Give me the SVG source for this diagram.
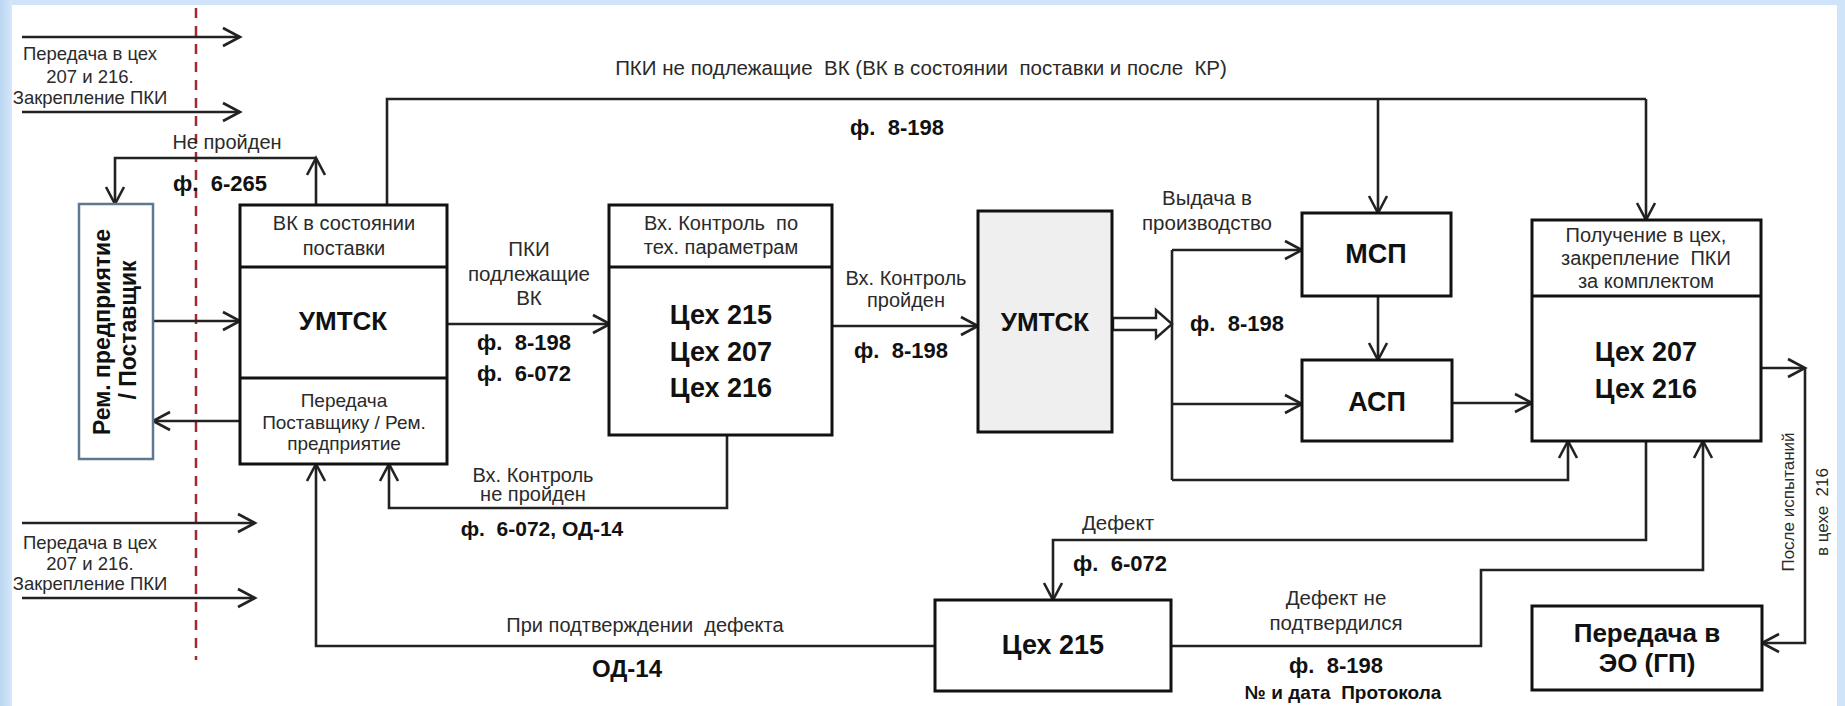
<svg xmlns="http://www.w3.org/2000/svg" width="1845" height="706" viewBox="0 0 1845 706" xml:space="preserve">
<defs>
<linearGradient id="leftg" x1="0" y1="0" x2="1" y2="0">
<stop offset="0" stop-color="#b9d5f1"/>
<stop offset="1" stop-color="#d6e8fa"/>
</linearGradient>
<marker id="ah" markerUnits="userSpaceOnUse" markerWidth="24" markerHeight="22" viewBox="0 0 24 22" refX="19" refY="11" orient="auto">
<path d="M2,2 L19,11 L2,20" fill="none" stroke="#222" stroke-width="2.6"/>
</marker>
<style>
.box{fill:#fff;stroke:#111;stroke-width:3}
.div{stroke:#111;stroke-width:3}
.ln{fill:none;stroke:#222;stroke-width:2.6}
.arr{fill:none;stroke:#222;stroke-width:2.6;marker-end:url(#ah)}
text{font-family:"Liberation Sans",Arial,sans-serif;fill:#2a2a2a;text-anchor:middle;dominant-baseline:central;white-space:pre}
.l{font-size:18.5px}
.s{font-size:20px}
.m{font-size:20.5px}
.rt{font-size:19px}
.b{font-size:22px;font-weight:bold;fill:#111}
.bb{font-size:27px;font-weight:bold;fill:#111}
.v{font-size:17px}
</style>
</defs>
<rect x="0" y="0" width="1845" height="706" fill="#cfe4f8"/>
<rect x="0" y="0" width="12" height="706" fill="url(#leftg)"/>
<rect x="12" y="5" width="1825" height="701" fill="#ffffff"/>

<line x1="196" y1="8" x2="196" y2="660" stroke="#a02a30" stroke-width="2.5" stroke-dasharray="10,8"/>

<g id="connectors">
<path class="arr" d="M22,37 H240"/>
<path class="arr" d="M22,112 H240"/>
<path class="arr" d="M22,523 H255"/>
<path class="arr" d="M22,598 H255"/>
<path class="arr" d="M153,321 H240"/>
<path class="arr" d="M240,421 H153"/>
<path class="arr" d="M316,205 V158"/>
<path class="arr" d="M316,158 H115 V204"/>
<path class="ln" d="M387,205 V99 H1646"/>
<path class="arr" d="M1646,99 V220"/>
<path class="arr" d="M1378,99 V213"/>
<path class="arr" d="M447,324 H610"/>
<path class="arr" d="M832,326 H978"/>
<polygon points="1113,318 1156,318 1156,310 1172,324 1156,338 1156,330 1113,330" fill="#fff" stroke="#222" stroke-width="2.4"/>
<path class="ln" d="M1172,250 V480"/>
<path class="arr" d="M1172,250 H1302"/>
<path class="arr" d="M1172,404 H1302"/>
<path class="arr" d="M1172,480 H1568 V441"/>
<path class="arr" d="M1378,296 V360"/>
<path class="arr" d="M1452,403 H1532"/>
<path class="arr" d="M1761,368 H1805"/>
<path class="arr" d="M1805,368 V643 H1762"/>
<path class="arr" d="M1646,441 V540 H1053 V600"/>
<path class="arr" d="M1171,646 H1481 V570 H1703 V441"/>
<path class="arr" d="M935,646 H316 V464"/>
<path class="arr" d="M727,435 V508 H389 V464"/>
</g>

<g id="rem">
<rect x="79" y="204" width="74" height="255" fill="#fff" stroke="#5d7890" stroke-width="2.5"/>
<text class="b" x="102" y="332" transform="rotate(-90 102 332)" style="font-size:23px">Рем. предприятие</text>
<text class="b" x="128" y="330" transform="rotate(-90 128 330)" style="font-size:23px">/ Поставщик</text>
</g>

<g id="umtsk1">
<rect class="box" x="240" y="205" width="207" height="259"/>
<line class="div" x1="240" y1="267" x2="447" y2="267"/>
<line class="div" x1="240" y1="378" x2="447" y2="378"/>
<text class="s" x="344" y="223">ВК в состоянии</text>
<text class="s" x="344" y="248">поставки</text>
<text class="bb" x="343" y="321" style="font-size:26px">УМТСК</text>
<text class="rt" x="344" y="400">Передача</text>
<text class="rt" x="344" y="422">Поставщику / Рем.</text>
<text class="rt" x="344" y="443">предприятие</text>
</g>

<g id="vk">
<rect class="box" x="609" y="205" width="223" height="230"/>
<line class="div" x1="609" y1="267" x2="832" y2="267"/>
<text class="s" x="721" y="223">Вх. Контроль  по</text>
<text class="s" x="721" y="247">тех. параметрам</text>
<text class="bb" x="721" y="315">Цех 215</text>
<text class="bb" x="721" y="352">Цех 207</text>
<text class="bb" x="721" y="388">Цех 216</text>
</g>

<g id="umtsk2">
<rect x="978" y="211" width="134" height="221" fill="#efefef" stroke="#111" stroke-width="3"/>
<text class="bb" x="1045" y="322" style="font-size:26px">УМТСК</text>
</g>

<g id="msp">
<rect class="box" x="1302" y="213" width="149" height="83"/>
<text class="bb" x="1376" y="254">МСП</text>
</g>

<g id="asp">
<rect class="box" x="1302" y="360" width="150" height="81"/>
<text class="bb" x="1377" y="402">АСП</text>
</g>

<g id="poluchenie">
<rect class="box" x="1532" y="220" width="229" height="221"/>
<line class="div" x1="1532" y1="296" x2="1761" y2="296"/>
<text class="s" x="1646" y="235">Получение в цех,</text>
<text class="s" x="1646" y="258">закрепление  ПКИ</text>
<text class="s" x="1646" y="281">за комплектом</text>
<text class="bb" x="1646" y="352">Цех 207</text>
<text class="bb" x="1646" y="389">Цех 216</text>
</g>

<g id="ceh215">
<rect class="box" x="935" y="600" width="236" height="91"/>
<text class="bb" x="1053" y="645">Цех 215</text>
</g>

<g id="eo">
<rect class="box" x="1532" y="606" width="230" height="84"/>
<text class="b" x="1647" y="633" style="font-size:26px">Передача в</text>
<text class="b" x="1647" y="663" style="font-size:26px">ЭО (ГП)</text>
</g>

<g id="labels">
<text class="l" x="90" y="53">Передача в цех</text>
<text class="l" x="90" y="76">207 и 216.</text>
<text class="l" x="90" y="97">Закрепление ПКИ</text>
<text class="l" x="90" y="542">Передача в цех</text>
<text class="l" x="90" y="563">207 и 216.</text>
<text class="l" x="90" y="583">Закрепление ПКИ</text>
<text class="s" x="227" y="142">Не пройден</text>
<text class="b" x="220" y="183">ф.  6-265</text>
<text class="m" x="921" y="67">ПКИ не подлежащие  ВК (ВК в состоянии  поставки и после  КР)</text>
<text class="b" x="897" y="127">ф.  8-198</text>
<text class="m" x="529" y="248">ПКИ</text>
<text class="m" x="529" y="273">подлежащие</text>
<text class="m" x="529" y="297">ВК</text>
<text class="b" x="524" y="342">ф.  8-198</text>
<text class="b" x="524" y="373">ф.  6-072</text>
<text class="s" x="906" y="278">Вх. Контроль</text>
<text class="s" x="906" y="300">пройден</text>
<text class="b" x="901" y="350">ф.  8-198</text>
<text class="m" x="1207" y="197">Выдача в</text>
<text class="m" x="1207" y="222">производство</text>
<text class="b" x="1237" y="323">ф.  8-198</text>
<text class="s" x="533" y="475">Вх. Контроль</text>
<text class="s" x="533" y="494">не пройден</text>
<text class="b" x="542" y="528" style="font-size:21px">ф.  6-072, ОД-14</text>
<text class="m" x="1118" y="522">Дефект</text>
<text class="b" x="1120" y="563">ф.  6-072</text>
<text class="s" x="645" y="625">При подтверждении  дефекта</text>
<text class="b" x="627" y="668" style="font-size:24px">ОД-14</text>
<text class="m" x="1336" y="597">Дефект не</text>
<text class="m" x="1336" y="622">подтвердился</text>
<text class="b" x="1336" y="665">ф.  8-198</text>
<text class="b" x="1343" y="692" style="font-size:19px">№ и дата  Протокола</text>
<text class="v" x="1788" y="502" transform="rotate(-90 1788 502)">После испытаний</text>
<text class="v" x="1822" y="512" transform="rotate(-90 1822 512)">в цехе  216</text>
</g>
</svg>
